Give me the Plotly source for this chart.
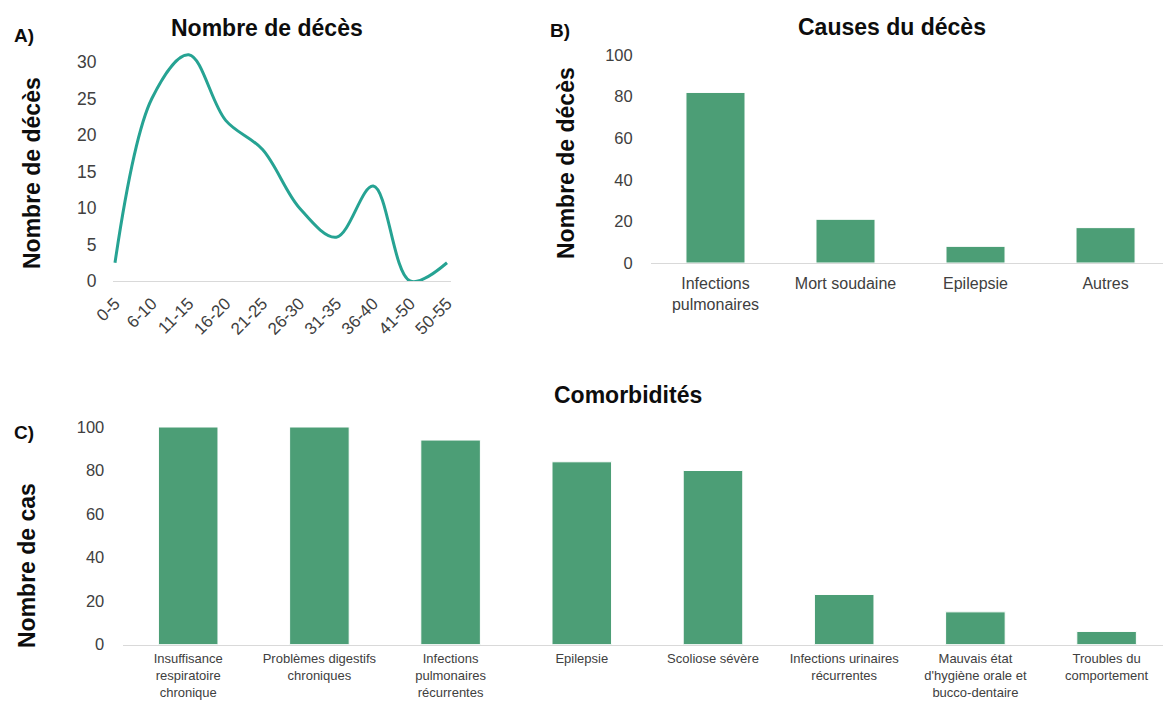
import plotly.graph_objects as go

# ---- Data ----
age_groups = ["0-5", "6-10", "11-15", "16-20", "21-25", "26-30", "31-35", "36-40", "41-50", "50-55"]
deaths_by_age = [2.5, 25, 31, 22, 18, 10, 6, 13, 0, 2.5]

death_causes = ["Infections<br>pulmonaires", "Mort soudaine", "Epilepsie", "Autres"]
death_cause_counts = [82, 21, 8, 17]

comorbidities = [
    "Insuffisance<br>respiratoire<br>chronique",
    "Problèmes digestifs<br>chroniques",
    "Infections<br>pulmonaires<br>récurrentes",
    "Epilepsie",
    "Scoliose sévère",
    "Infections urinaires<br>récurrentes",
    "Mauvais état<br>d'hygiène orale et<br>bucco-dentaire",
    "Troubles du<br>comportement",
]
comorbidity_counts = [100, 100, 94, 84, 80, 23, 15, 6]

# ---- Styling ----
W, H = 1163, 702
FONT = "Liberation Sans, Arial, sans-serif"
LINE_COLOR = "#26A393"
BAR_COLOR = "#4C9E76"
AXIS_COLOR = "#D9D9D9"
TICK_COLOR = "#404040"

def px(x):
    return x / W

def py(y):
    return 1 - y / H

fig = go.Figure()

fig.add_trace(go.Scatter(
    x=age_groups, y=deaths_by_age, mode="lines",
    line=dict(color=LINE_COLOR, width=3, shape="spline", smoothing=1.0),
    xaxis="x", yaxis="y", showlegend=False,
))

fig.add_trace(go.Bar(
    x=death_causes, y=death_cause_counts,
    marker=dict(color=BAR_COLOR, line=dict(color="white", width=1)),
    xaxis="x2", yaxis="y2", showlegend=False,
))

fig.add_trace(go.Bar(
    x=comorbidities, y=comorbidity_counts,
    marker=dict(color=BAR_COLOR, line=dict(color="white", width=1)),
    xaxis="x3", yaxis="y3", showlegend=False,
))

xcommon = dict(showgrid=False, zeroline=False, showline=True, linecolor=AXIS_COLOR,
               linewidth=1, ticks="outside", tickcolor="rgba(0,0,0,0)", fixedrange=True,
               automargin=False)
ycommon = dict(showgrid=False, zeroline=False, showline=False, ticks="outside",
               tickcolor="rgba(0,0,0,0)", fixedrange=True, automargin=False)

fig.update_layout(
    template="none",
    width=W, height=H,
    margin=dict(l=0, r=0, t=0, b=0, pad=0),
    paper_bgcolor="white", plot_bgcolor="white",
    font=dict(family=FONT, color=TICK_COLOR),
    bargap=0.546,
    xaxis=dict(**xcommon, domain=[px(113), px(450.7)], anchor="y",
               type="category", range=[-0.054, 9.1], tickangle=-45, ticklen=5,
               tickfont=dict(size=17, color=TICK_COLOR)),
    yaxis=dict(**ycommon, domain=[py(281), py(47)], anchor="x",
               range=[0, 32.05], tickvals=[0, 5, 10, 15, 20, 25, 30], ticklen=12,
               tickfont=dict(size=17.5, color=TICK_COLOR)),
    xaxis2=dict(**xcommon, domain=[px(651), 1], anchor="y2",
                type="category", range=[-0.496, 3.442], ticklen=6,
                tickfont=dict(size=16, color=TICK_COLOR)),
    yaxis2=dict(**ycommon, domain=[py(263), py(55)], anchor="x2",
                range=[0, 100], tickvals=[0, 20, 40, 60, 80, 100], ticklen=14,
                tickfont=dict(size=16.5, color=TICK_COLOR)),
    xaxis3=dict(**xcommon, domain=[px(122.6), 1], anchor="y3",
                type="category", range=[-0.5, 7.43], ticklen=2,
                tickfont=dict(size=13, color=TICK_COLOR)),
    yaxis3=dict(**ycommon, domain=[py(644.5), py(427)], anchor="x3",
                range=[0, 100], tickvals=[0, 20, 40, 60, 80, 100], ticklen=14,
                tickfont=dict(size=16.5, color=TICK_COLOR)),
)

TITLE_FONT = dict(family=FONT, size=23, color="#0D0D0D")
LABEL_FONT = dict(family=FONT, size=19, color="#0D0D0D")

annotations = [
    # panel titles
    dict(text="<b>Nombre de décès</b>", x=px(267), y=py(28), font=TITLE_FONT),
    dict(text="<b>Causes du décès</b>", x=px(892), y=py(27), font=TITLE_FONT),
    dict(text="<b>Comorbidités</b>", x=px(628), y=py(395), font=TITLE_FONT),
    # y axis titles
    dict(text="<b>Nombre de décès</b>", x=px(32), y=py(173), textangle=-90, font=TITLE_FONT),
    dict(text="<b>Nombre de décès</b>", x=px(566), y=py(163), textangle=-90, font=TITLE_FONT),
    dict(text="<b>Nombre de cas</b>", x=px(27), y=py(566), textangle=-90, font=TITLE_FONT),
    # panel labels
    dict(text="<b>A)</b>", x=px(24), y=py(35), font=LABEL_FONT),
    dict(text="<b>B)</b>", x=px(560), y=py(31), font=LABEL_FONT),
    dict(text="<b>C)</b>", x=px(24), y=py(432), font=LABEL_FONT),
]
for a in annotations:
    a.update(xref="paper", yref="paper", showarrow=False, xanchor="center", yanchor="middle")
fig.update_layout(annotations=annotations)

fig.write_html(
    "out.html",
    config={"displayModeBar": False},
    post_script="document.body.style.margin='0';document.body.style.padding='0';",
)
